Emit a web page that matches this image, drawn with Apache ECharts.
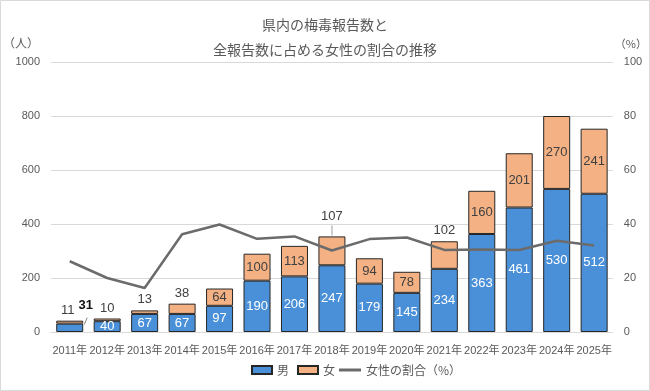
<!DOCTYPE html>
<html><head><meta charset="utf-8">
<script src="https://cdn.jsdelivr.net/npm/echarts@6/dist/echarts.min.js"></script>
<style>html,body{margin:0;padding:0;background:#fff}#c{width:650px;height:391px}</style>
</head><body><div id="c"></div>
<script>
const categories = ['2011年','2012年','2013年','2014年','2015年','2016年','2017年','2018年','2019年','2020年','2021年','2022年','2023年','2024年','2025年'];
const male = [31,40,67,67,97,190,206,247,179,145,234,363,461,530,512];
const female = [11,10,13,38,64,100,113,107,94,78,102,160,201,270,241];
const femaleRatio = [26.2,20.0,16.3,36.2,39.8,34.5,35.4,30.2,34.4,35.0,30.4,30.6,30.4,33.8,32.0];
const leftTicks = [0,200,400,600,800,1000];
const rightTicks = [0,20,40,60,80,100];
const femaleOutside = [0,1,2,3,7,10];

const JP = '"Noto Sans CJK JP", sans-serif';
const NUM = '"Liberation Sans", "Noto Sans CJK JP", sans-serif';
const chart = echarts.init(document.getElementById('c'), null, {renderer:'canvas'});

const maleData = male.map((v,i)=> i===0 ? {value:v, label:{position:'top', color:'#111', fontWeight:'bold', distance:6, offset:[16,-6]}} : v);
const femaleData = female.map((v,i)=> femaleOutside.includes(i) ? {value:v, label:{position:'top', color:'#404040', distance:i===7 ? 13 : 4, offset: i===0 ? [-2,0] : [0,0]}} : v);

const BAR_W = 27;
chart.setOption({
  animation:false,
  backgroundColor:'#fff',
  title:{text:'県内の梅毒報告数と\n全報告数に占める女性の割合の推移', left:'center', top:7,
    textStyle:{fontFamily:JP, fontSize:14, fontWeight:'normal', color:'#595959', lineHeight:25}},
  grid:{left:46, right:36, top:62, bottom:59, containLabel:false},
  legend:[
    {left:246, bottom:10, itemWidth:20, itemHeight:8, itemGap:8,
      textStyle:{fontFamily:JP, fontSize:12, color:'#595959'},
      data:[{name:'男', icon:'rect'},{name:'女', icon:'rect'}]},
    {left:334, bottom:10, itemWidth:22, itemHeight:3, icon:'rect',
      textStyle:{fontFamily:JP, fontSize:12, color:'#595959'},
      data:[{name:'女性の割合（%）'}]}
  ],
  xAxis:{type:'category', data:categories,
    axisLine:{lineStyle:{color:'#d9d9d9'}}, axisTick:{show:false},
    axisLabel:{fontFamily:NUM, fontSize:11, color:'#595959', margin:13, interval:0}},
  yAxis:[
    {type:'value', min:0, max:1000, interval:200, name:'（人）', nameLocation:'end', nameGap:13,
      nameTextStyle:{fontFamily:JP, fontSize:12, color:'#595959', align:'right', padding:[0,12,0,0]},
      axisLabel:{fontFamily:NUM, fontSize:11, color:'#595959', margin:11, formatter:v=>String(v)},
      axisLine:{show:false}, axisTick:{show:false},
      splitLine:{lineStyle:{color:'#d9d9d9'}}},
    {type:'value', min:0, max:100, interval:20, name:'（%）', nameLocation:'end', nameGap:13,
      nameTextStyle:{fontFamily:JP, fontSize:11, color:'#595959', align:'left', padding:[0,0,0,2]},
      axisLabel:{fontFamily:NUM, fontSize:11, color:'#595959', margin:11, formatter:v=>String(v)},
      axisLine:{show:false}, axisTick:{show:false},
      splitLine:{show:false}}
  ],
  series:[
    {name:'男', type:'bar', stack:'total', data:maleData, barWidth:BAR_W,
      itemStyle:{color:'#4a90d9', borderColor:'#262626', borderWidth:1},
      label:{show:true, position:'inside', color:'#fff', fontFamily:NUM, fontSize:13}},
    {name:'女', type:'bar', stack:'total', data:femaleData, barWidth:BAR_W,
      itemStyle:{color:'#f4b183', borderColor:'#262626', borderWidth:1},
      label:{show:true, position:'inside', color:'#404040', fontFamily:NUM, fontSize:13}},
    {name:'女性の割合（%）', type:'line', yAxisIndex:1, data:femaleRatio, symbol:'none', z:5,
      lineStyle:{color:'#6b6b6b', width:2.5}, itemStyle:{color:'#6b6b6b'}}
  ]
});

// leader lines for moved labels (positions from the library's scales)
const p0 = chart.convertToPixel({seriesIndex:0}, [0, male[0]]);
const p7 = chart.convertToPixel({seriesIndex:1}, [7, male[7] + female[7]]);
chart.setOption({
  graphic:[
    {type:'rect', silent:true, shape:{x:0.5,y:0.5,width:649,height:390}, style:{fill:'none', stroke:'#d9d9d9', lineWidth:1}},
    {type:'line', silent:true, z:10, shape:{x1:p0[0]+BAR_W/2+1, y1:p0[1]+1, x2:p0[0]+BAR_W/2+4, y2:p0[1]-6}, style:{stroke:'#808080', lineWidth:1}},
    {type:'line', silent:true, z:10, shape:{x1:p7[0], y1:p7[1]-1, x2:p7[0], y2:p7[1]-11}, style:{stroke:'#bfbfbf', lineWidth:1.5}}
  ]
});
</script></body></html>
